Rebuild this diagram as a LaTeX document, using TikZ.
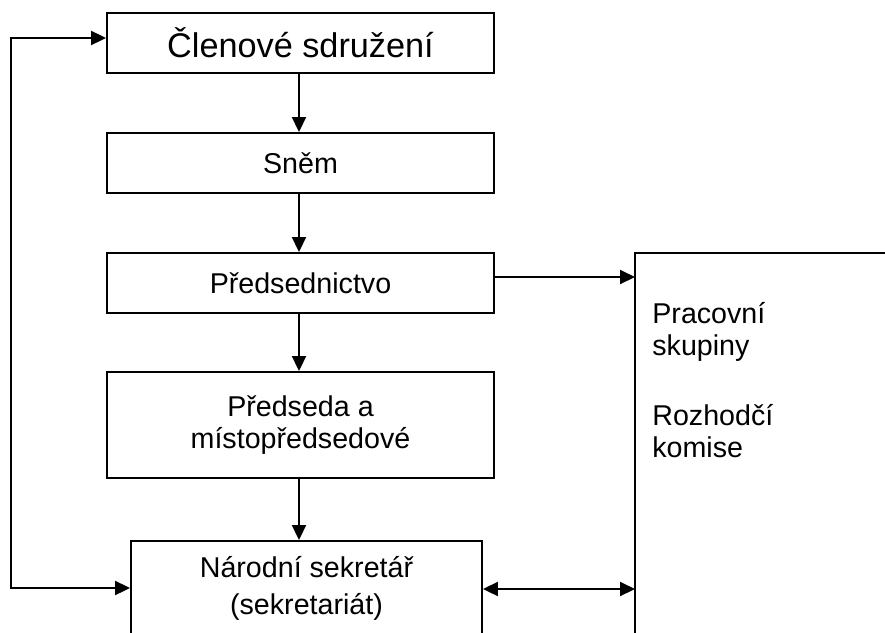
\documentclass[tikz,border=0pt]{standalone}
\usepackage{fontspec}
\setmainfont{Liberation Sans}
\usetikzlibrary{arrows.meta}

\tikzset{
	box/.style={draw, line width=1.1pt, minimum width=7.74cm, minimum height=1.2cm, inner sep=0pt, align=center, font=\fontsize{16.3}{17.8}\selectfont},
	txt/.style={inner sep=0pt, align=left, font=\fontsize{16.3}{18.2}\selectfont},
	arr/.style={line width=1.1pt, -{Triangle[length=0.3cm,width=0.28cm]}},
	dblarr/.style={line width=1.1pt, {Triangle[length=0.3cm,width=0.28cm]}-{Triangle[length=0.3cm,width=0.28cm]}}
}

\begin{document}
\begin{tikzpicture}[x=0.02cm, y=-0.02cm]
			%%%%% START %%%%%
			\useasboundingbox (0, 0) rectangle (885, 632);
			\clip (0, 0) rectangle (885, 632);
			
			\node[box, font=\fontsize{19.5}{22}\selectfont] (clen) at (300.5, 43) {Členové sdružení};
			\node[box] (snem) at (300.5, 163) {Sněm};
			\node[box] (pred) at (300.5, 283) {Předsednictvo};
			\node[box, minimum height=2.12cm] (predseda) at (300.5, 425) {Předseda a\\místopředsedové};
			
			\node[box, minimum width=7.02cm, minimum height=2.4cm] (narodni) at (306.5, 601) {};
			\node[txt, anchor=base] (narodniA) at (306.5, 577) {Národní sekretář};
			\node[txt, anchor=base] (narodniB) at (306.5, 614) {(sekretariát)};
			
			% right box, open to the right and below
			\coordinate (prac) at (635, 253);
			\draw[line width=1.1pt] (890, 253) -- (prac) -- (635, 640);
			\node[txt, anchor=base west] (pracA) at (652, 355) {Pracovní\\skupiny};
			\node[txt, anchor=base west] (pracB) at (652, 457) {Rozhodčí\\komise};
			
			\draw[arr] (clen.south -| 299, 0) -- (snem.north -| 299, 0);
			\draw[arr] (snem.south -| 299, 0) -- (pred.north -| 299, 0);
			\draw[arr] (pred.south -| 299, 0) -- (predseda.north -| 299, 0);
			\draw[arr] (predseda.south -| 299, 0) -- (narodni.north -| 299, 0);
			
			\coordinate (pracIn) at (635, 277);
			\draw[arr] (pred.east |- pracIn) -- (pracIn);
			
			\coordinate (pracSek) at (635, 589);
			\draw[dblarr] (narodni.east |- pracSek) -- (pracSek);
			
			\coordinate (loopTop) at (11, 38);
			\coordinate (loopBot) at (11, 588);
			\draw[dblarr] (clen.west |- loopTop) -- (loopTop) -- (loopBot) -- (narodni.west |- loopBot);
			
			%%%%% END %%%%%
\end{tikzpicture}
\end{document}
